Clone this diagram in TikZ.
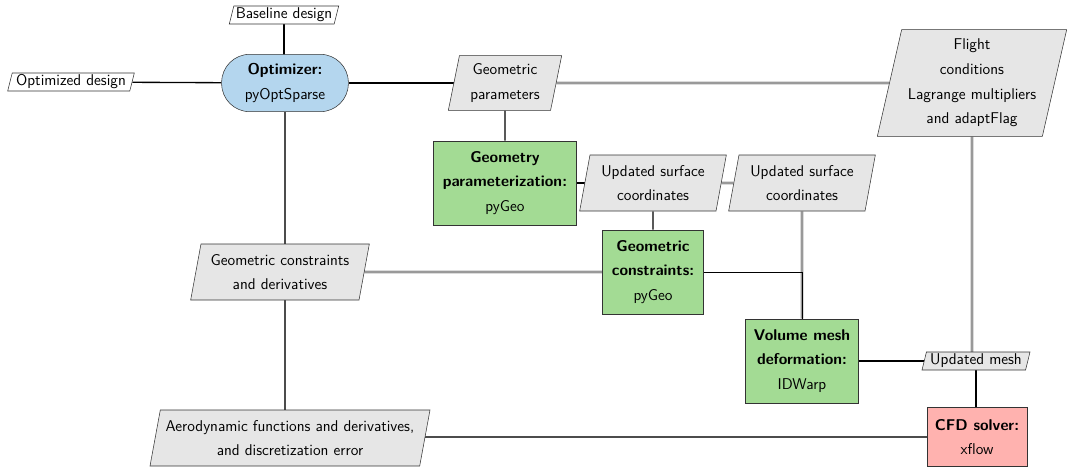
\documentclass[tikz,border=0pt]{standalone}
\usepackage{tikz}
\usetikzlibrary{shapes.geometric}
\usetikzlibrary{backgrounds}

\definecolor{optblue}{RGB}{180,214,238}
\definecolor{funcgreen}{RGB}{163,219,148}
\definecolor{solvered}{RGB}{255,178,175}
\definecolor{datagray}{RGB}{230,230,230}

\tikzset{
	txt/.style={font=\sffamily\fontsize{11.7}{18.5}\selectfont, align=center},
	data/.style={txt, trapezium, trapezium left angle=75, trapezium right angle=105,
		trapezium stretches body=true, draw=black!80, fill=datagray, inner xsep=0pt, inner ysep=1pt},
	io/.style={data, fill=white},
	func/.style={txt, rectangle, draw=black!80, fill=funcgreen, inner sep=2pt},
	optim/.style={txt, rectangle, rounded corners=21pt, draw=black!80, fill=optblue, inner sep=2pt},
	solver/.style={func, fill=solvered},
	proc/.style={black, line width=1pt},
	thinproc/.style={black, line width=0.7pt},
	back/.style={black!70, line width=1.8pt},
	dat/.style={black!40, line width=2.2pt},
}

\begin{document}
\begin{tikzpicture}[x=0.75pt, y=-0.75pt]
	\useasboundingbox (0,0) rectangle (1067,468);

	% optimizer and its inputs / outputs
	\node[io, minimum width=82pt, minimum height=13.5pt] (base) at (284,15) {Baseline design};
	\node[io, minimum width=95pt, minimum height=13.5pt] (optd) at (71,82) {Optimized design};
	\node[optim, minimum width=95pt, minimum height=43pt] (opt) at (285,83) {{\bfseries Optimizer:}\\pyOptSparse};

	% geometry
	\node[data, minimum width=85pt, minimum height=41pt] (gpar) at (505,83) {Geometric\\parameters};
	\node[func, minimum width=107pt, minimum height=63pt] (geo) at (505,183) {{\bfseries Geometry}\\{\bfseries parameterization:}\\pyGeo};
	\node[data, minimum width=110pt, minimum height=42pt] (usc1) at (653,183) {Updated surface\\coordinates};
	\node[data, minimum width=110pt, minimum height=42pt] (usc2) at (802,183) {Updated surface\\coordinates};
	\node[func, minimum width=76pt, minimum height=63pt] (gcon) at (653,272) {{\bfseries Geometric}\\{\bfseries constraints:}\\pyGeo};
	\node[data, minimum width=134pt, minimum height=42pt] (gcd) at (280,272) {Geometric constraints\\and derivatives};

	% mesh and flow
	\node[data, minimum width=142pt, minimum height=80pt] (flight) at (972,83) {Flight\\conditions\\Lagrange multipliers\\and adaptFlag};
	\node[func, minimum width=85pt, minimum height=63pt] (mesh) at (802,361) {{\bfseries Volume mesh}\\{\bfseries deformation:}\\IDWarp};
	\node[data, minimum width=81pt, minimum height=13.5pt] (umesh) at (976,361) {Updated mesh};
	\node[solver, minimum width=75pt, minimum height=44pt] (cfd) at (977,437) {{\bfseries CFD solver:}\\xflow};
	\node[data, minimum width=210pt, minimum height=42pt] (aero) at (290,438) {Aerodynamic functions and derivatives,\\and discretization error};

	\begin{pgfonlayer}{background}
		\draw[back] (opt) -- (opt |- aero);
		\draw[back] (cfd) -- (cfd -| aero);
		\draw[dat] (gpar) -- (flight);
		\draw[dat] (usc1) -- (usc2);
		\draw[dat] (usc2) -- (mesh);
		\draw[dat] (flight) -- (flight |- umesh);
		\draw[dat] (gcd) -- (gcd -| gcon);
		\draw[proc] (base) -- (base |- opt);
		\draw[proc] (opt) -- (optd);
		\draw[proc] (opt) -- (opt -| gpar);
		\draw[proc] (gpar) -- (geo);
		\draw[proc] (geo) -- (geo -| usc1);
		\draw[proc] (usc1) -- (gcon);
		\draw[thinproc] (gcon) -| (mesh);
		\draw[proc] (mesh) -- (mesh -| umesh);
		\draw[proc] (umesh) -- (umesh |- cfd);
	\end{pgfonlayer}
\end{tikzpicture}
\end{document}
